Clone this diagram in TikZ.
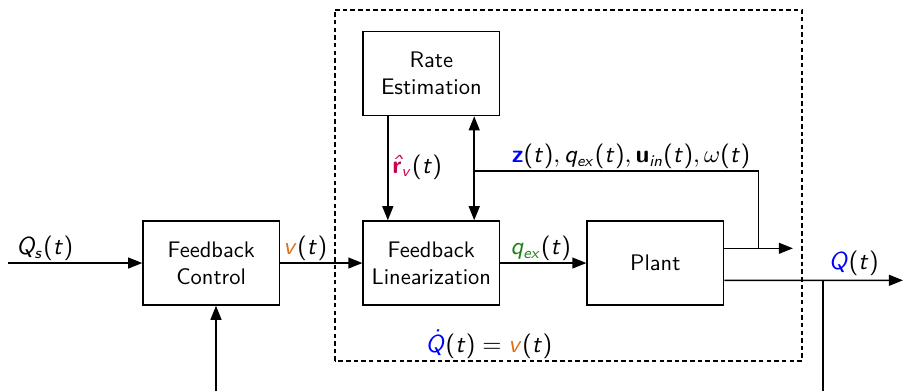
\documentclass[tikz,border=0pt]{standalone}
\usetikzlibrary{arrows.meta}

% sans serif maths: slanted letters, upright digits and brackets
\DeclareMathAlphabet{\mathsl}{OT1}{cmss}{m}{sl}
\SetSymbolFont{operators}{normal}{OT1}{cmss}{m}{n}
\SetMathAlphabet{\mathbf}{normal}{OT1}{cmss}{bx}{n}

\definecolor{vorange}{RGB}{222,112,18}
\definecolor{rmagenta}{RGB}{204,0,82}
\definecolor{qgreen}{RGB}{30,128,22}

\begin{document}
\begin{tikzpicture}[>={Triangle[length=2.2mm, width=1.7mm]}, line width=0.7pt,
            font=\sffamily,
            block/.style={draw, minimum width=2.13cm, minimum height=1.31cm, align=center},
            signal/.style={font=\fontsize{10.6}{13}\selectfont, inner sep=1pt}]
            \useasboundingbox (0, 0) rectangle (14.11, 6.11);

            % inner loop: linearization + plant
            \draw[line width=0.8pt, dash pattern=on 2pt off 1.4pt] (5.23, 0.47) rectangle (12.53, 5.96);

            \node[block] (ctrl) at (3.3, 2.0) {Feedback\\Control};
            \node[block] (lin) at (6.74, 2.0) {Feedback\\Linearization};
            \node[block] (rate) at (6.74, 4.96) {Rate\\Estimation};
            \node[block] (plant) at (10.24, 2.0) {Plant};

            \coordinate (qs) at (0.12, 2.0);
            \coordinate (fbin) at (3.375, 0);
            \coordinate (tap) at (7.41, 3.44);
            \coordinate (meas) at (11.85, 2.23);
            \coordinate (yout) at (12.39, 2.23);
            \coordinate (qout) at (14.11, 1.73);
            \coordinate (fbk) at (12.86, 1.73);
            \coordinate (fbkend) at (12.86, 0);

            \draw[->] (qs) -- (ctrl.west);
            \draw[->] (ctrl) -- (lin);
            \draw[->] (lin) -- (plant);
            \draw[->] (fbin) -- (fbin |- ctrl.south);
            \draw[->] ([xshift=-0.68cm]rate.south) -- ([xshift=-0.68cm]lin.north);
            \draw[<->] ([xshift=0.67cm]rate.south) -- ([xshift=0.67cm]lin.north);
            \draw (tap) -| (meas);
            \draw[->] ([yshift=0.23cm]plant.east) -- (yout);
            \draw[->] ([yshift=-0.27cm]plant.east) -- (qout);
            \draw (fbk) -- (fbkend);

            % signal labels
            \node[signal] (qslab) at (0.70, 2.23) {$\mathsl{Q_s(t)}$};
            \node[signal] (vlab) at (4.77, 2.23) {$\mathsl{{\color{vorange}v}(t)}$};
            \node[signal] (rlab) at (6.52, 3.5) {$\mathsl{{\color{rmagenta}\hat{\mathbf{r}}_v}(t)}$};
            \node[signal] (zlab) at (9.86, 3.66) {$\mathsl{{\color{blue}\mathbf{z}}(t), q_{ex}(t), \mathbf{u}_{in}(t), \omega(t)}$};
            \node[signal] (qexlab) at (8.45, 2.23) {$\mathsl{{\color{qgreen}q_{ex}}(t)}$};
            \node[signal] (qlab) at (13.34, 2.0) {$\mathsl{{\color{blue}Q}(t)}$};
            \node[signal] (dynlab) at (7.64, 0.73) {$\mathsl{{\color{blue}\dot{Q}}(t) = {\color{vorange}v}(t)}$};
        \end{tikzpicture}
\end{document}
